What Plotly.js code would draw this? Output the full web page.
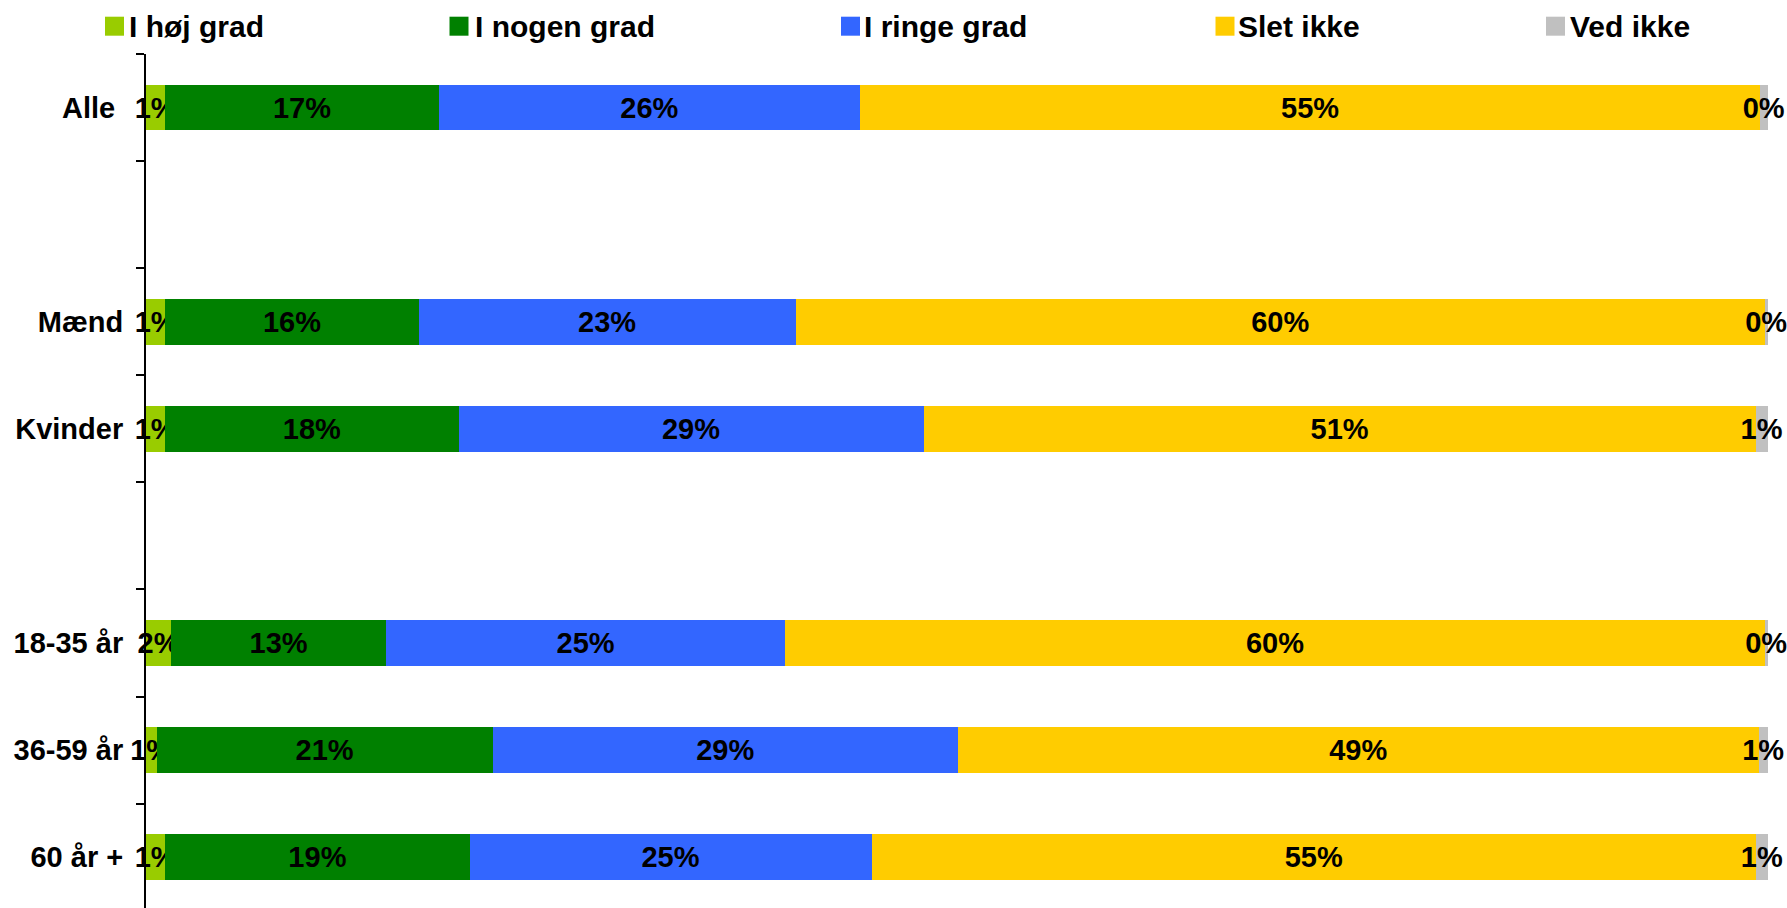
<!DOCTYPE html>
<html>
<head>
<meta charset="utf-8">
<script src="https://cdn.plot.ly/plotly-3.0.1.min.js"></script>
<style>
html,body{margin:0;padding:0;background:#fff;overflow:hidden}
#chart{width:1787px;height:908px}
</style>
</head>
<body>
<div id="chart"></div>
<script>
// ---- data ----
const categories   = ["Alle", "Mænd", "Kvinder", "18-35 år", "36-59 år", "60 år +"];
const seriesNames  = ["I høj grad", "I nogen grad", "I ringe grad", "Slet ikke", "Ved ikke"];
const iHoejGrad    = [1.20, 1.20, 1.20, 1.55, 0.65, 1.20];
const iNogenGrad   = [16.84, 15.61, 18.07, 13.26, 20.73, 18.75];
const iRingeGrad   = [26.01, 23.25, 28.68, 24.61, 28.68, 24.80];
const sletIkke     = [55.47, 59.77, 51.32, 60.41, 49.40, 54.53];
const vedIkke      = [0.48, 0.17, 0.72, 0.17, 0.54, 0.72];

// ---- style ----
const seriesColors = ["#99CC00", "#008000", "#3366FF", "#FFCC00", "#C0C0C0"];
const FONT = "Liberation Sans, Arial, Helvetica, sans-serif";
const labelPad = ["\u00a0", "", "", "", "", ""];
const yLabels = categories.map((c, i) => c + labelPad[i]);
const gapA = "\u00a0", gapB = "\u00a0\u00a0";
const yOrder = [yLabels[0], gapA, yLabels[1], yLabels[2], gapB, yLabels[3], yLabels[4], yLabels[5]];

const seriesValues = [iHoejGrad, iNogenGrad, iRingeGrad, sletIkke, vedIkke];

const traces = seriesValues.map((vals, k) => ({
  type: "bar",
  orientation: "h",
  name: seriesNames[k],
  x: vals,
  y: yLabels,
  marker: {color: seriesColors[k], line: {width: 0}},
  texttemplate: "%{x:.0f}%",
  textposition: "inside",
  insidetextanchor: "middle",
  textangle: 0,
  insidetextfont: {family: FONT, size: 29, color: "#000", weight: "bold"},
  textfont: {family: FONT, size: 29, color: "#000", weight: "bold"},
  cliponaxis: false,
  showlegend: false,
  hovertemplate: "%{y}: %{x:.1f}%<extra>" + seriesNames[k] + "</extra>"
}));

// plot area geometry (px)
const L = 146, R = 19, T = 54, B = 0, W = 1787, H = 908;
const pw = W - L - R, ph = H - T - B;
const px2paper = px => (px - L) / pw;
const py2paper = py => (H - B - py) / ph;

const legendSwatchX = [105, 449.5, 841, 1215.5, 1546];
const legendTextX   = [128, 473.5, 863, 1237, 1569];

const shapes = seriesNames.map((n, k) => ({
  type: "rect", xref: "paper", yref: "paper",
  x0: px2paper(legendSwatchX[k]), x1: px2paper(legendSwatchX[k] + 19),
  y0: py2paper(35.7), y1: py2paper(16.7),
  fillcolor: seriesColors[k], line: {width: 0}
}));

const annotations = seriesNames.map((n, k) => ({
  text: n, xref: "paper", yref: "paper",
  x: px2paper(legendTextX[k]), xanchor: "left",
  y: py2paper(26.5), yanchor: "middle",
  showarrow: false, borderpad: 0,
  font: {family: FONT, size: 30, color: "#000", weight: "bold"}
}));

const layout = {
  width: W, height: H,
  margin: {l: L, r: R, t: T, b: B, pad: 0},
  paper_bgcolor: "#fff", plot_bgcolor: "#fff",
  font: {family: FONT, size: 29, color: "#000", weight: "bold"},
  barmode: "stack",
  bargap: 0.575,
  uniformtext: {mode: "show", minsize: 29},
  showlegend: false,
  xaxis: {
    range: [0, 100.02], showgrid: false, zeroline: false, showline: false,
    showticklabels: false, ticks: "", fixedrange: true
  },
  yaxis: {
    type: "category", categoryorder: "array", categoryarray: yOrder,
    range: [7.474, -0.5], autorange: false,
    showline: true, linecolor: "#000", linewidth: 2,
    ticks: "outside", ticklen: 8, tickwidth: 2, tickcolor: "#000",
    tickson: "boundaries",
    showgrid: false, zeroline: false,
    tickfont: {family: FONT, size: 29, color: "#000", weight: "bold"},
    ticklabelstandoff: 15,
    fixedrange: true
  },
  shapes: shapes,
  annotations: annotations
};

Plotly.newPlot("chart", traces, layout, {displayModeBar: false, staticPlot: true});
</script>
</body>
</html>
